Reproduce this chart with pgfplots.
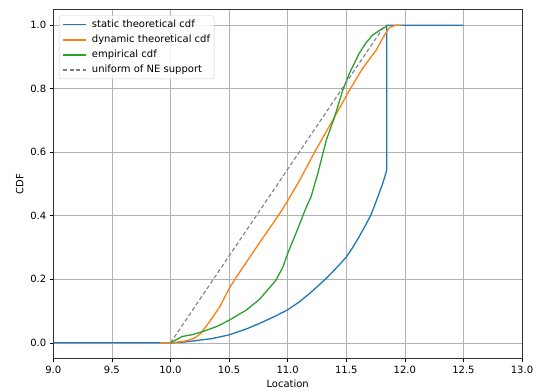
\documentclass[border=0pt]{standalone}
\usepackage{fontspec}
\setmainfont{DejaVu Sans}
\usepackage{pgfplots}
\pgfplotsset{compat=1.18}
\definecolor{tabblue}{HTML}{1F77B4}
\definecolor{taborange}{HTML}{FF7F0E}
\definecolor{tabgreen}{HTML}{2CA02C}
\definecolor{tabgray}{HTML}{7F7F7F}
\begin{document}
\begin{tikzpicture}
\begin{axis}[
  scale only axis,
  width=468.7pt, height=349.4pt,
  xmin=9, xmax=13, ymin=-0.05, ymax=1.05,
  xtick={9,9.5,10,10.5,11,11.5,12,12.5,13},
  ytick={0,0.2,0.4,0.6,0.8,1.0},
  xticklabel style={/pgf/number format/.cd, fixed, fixed zerofill, precision=1},
  yticklabel style={/pgf/number format/.cd, fixed, fixed zerofill, precision=1},
  /pgf/number format/assume math mode=true,
  tick label style={font=\fontsize{10}{12}\selectfont},
  label style={font=\fontsize{10}{12}\selectfont},
  xlabel={Location}, ylabel={CDF},
  xtick pos=bottom, ytick pos=left,
  tick align=outside, major tick length=3.5pt,
  tick style={black, line width=0.6pt},
  axis line style={black!80, line width=0.6pt},
  grid=major,
  major grid style={color=black!30, line width=0.6pt},
  legend cell align=left,
  legend style={at={(axis description cs:0.012,0.982)}, anchor=north west,
    draw=black!20, rounded corners=2pt, fill=white, fill opacity=0.8, text opacity=1,
    font=\fontsize{10}{12}\selectfont, row sep=3.7pt, inner sep=3pt,
    nodes={inner sep=1pt, text height=7.5pt, text depth=2pt},
    /tikz/every odd column/.append style={column sep=4pt}},
  legend image code/.code={\draw[#1, line width=1.8pt, draw opacity=1] (0pt,0pt) -- (23pt,0pt);},
]
\addplot[tabblue, line width=1.3pt] coordinates {
(9,0) (10,0) (10.1,0.002) (10.2,0.006) (10.25,0.0085) (10.35,0.013) (10.5,0.025)
(10.65,0.044) (10.76,0.061) (10.9,0.085) (11.0,0.104) (11.1,0.129) (11.19,0.156)
(11.33,0.203) (11.44,0.245) (11.5,0.27) (11.555,0.30) (11.61,0.334) (11.66,0.367)
(11.71,0.402) (11.745,0.435) (11.78,0.47) (11.81,0.50)
(11.835,0.53) (11.845,0.544) (11.845,1.0) (12.5,1.0)};
\addlegendentry{static theoretical cdf}
\addplot[taborange, line width=1.3pt] coordinates {
(9.91,0) (10.0,0) (10.08,0.003) (10.14,0.007) (10.2,0.014) (10.25,0.027) (10.28,0.04)
(10.35,0.075) (10.42,0.113) (10.5,0.17) (10.55,0.2) (10.65,0.255) (10.76,0.315)
(10.92,0.4) (11.0,0.447) (11.1,0.51) (11.23,0.6) (11.4,0.711) (11.535,0.8)
(11.64,0.864) (11.755,0.921) (11.825,0.968) (11.87,0.993) (11.925,1.0) (11.97,1.0)};
\addlegendentry{dynamic theoretical cdf}
\addplot[tabgreen, line width=1.3pt] coordinates {
(10.0,0) (10.05,0.01) (10.1,0.02) (10.19,0.026) (10.28,0.036) (10.4,0.052) (10.5,0.071)
(10.647,0.103) (10.76,0.137) (10.9,0.197) (10.96,0.239) (11.0,0.281) (11.07,0.344)
(11.16,0.428) (11.2,0.46) (11.257,0.533) (11.33,0.638) (11.4,0.711) (11.47,0.795)
(11.527,0.848) (11.61,0.911) (11.67,0.945) (11.726,0.969) (11.81,0.99) (11.84,0.995)
(11.845,1.0)};
\addlegendentry{empirical cdf}
\addplot[tabgray, line width=1.1pt, dash pattern=on 4pt off 2.5pt] coordinates {
(10.0,0) (11.83,1.0)};
\addlegendentry{uniform of NE support}
\end{axis}
\pgfresetboundingbox
\path[use as bounding box] ([xshift=-53.3pt,yshift=-32.3pt]current axis.south west) rectangle ([xshift=17pt,yshift=9.3pt]current axis.north east);
\end{tikzpicture}
\end{document}
